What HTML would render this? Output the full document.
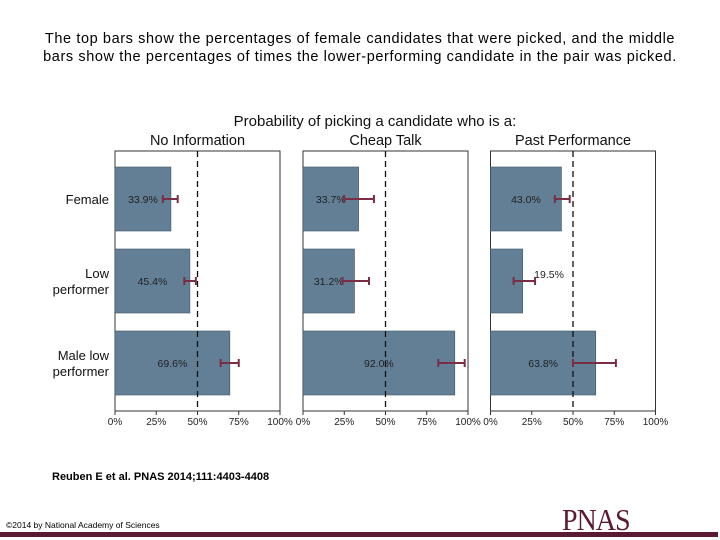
<!DOCTYPE html>
<html><head><meta charset="utf-8"><style>
body{margin:0;background:#fff;}
#wrap{position:relative;width:720px;height:540px;overflow:hidden;font-family:"Liberation Sans",sans-serif;}
.cap{position:absolute;left:0;width:720px;text-align:center;font-size:14.5px;letter-spacing:0.6px;color:#000;}
</style></head><body>
<div id="wrap">
<div class="cap" style="top:31px">The top bars show the percentages of female candidates that were picked, and the middle</div>
<div class="cap" style="top:49px">bars show the percentages of times the lower-performing candidate in the pair was picked.</div>
<svg id="chart" width="720" height="540" style="position:absolute;left:0;top:0"></svg>
<div style="position:absolute;left:52px;top:471px;font-size:11px;font-weight:bold;color:#000">Reuben E et al. PNAS 2014;111:4403-4408</div>
<div style="position:absolute;left:6px;top:520px;font-size:8.5px;color:#000">©2014 by National Academy of Sciences</div>
<div style="position:absolute;left:562px;top:502px;font-family:'Liberation Serif',serif;font-size:31px;color:#5b1a33;letter-spacing:-1px;transform:scaleX(0.9);transform-origin:left">PNAS</div>
<div style="position:absolute;left:0;top:532px;width:718px;height:5px;background:#5b1a33"></div>
</div>
<script>
const panels=["No Information","Cheap Talk","Past Performance"];
const categories=["Female","Low\nperformer","Male low\nperformer"];
const values=[[33.9,45.4,69.6],[33.7,31.2,92.0],[43.0,19.5,63.8]];
const errLow=[[29,42,64],[25,24,82],[39,14,50]];
const errHigh=[[38,49,75],[43,40,98],[48,27,76]];
const ticks=[0,25,50,75,100];
const NS="http://www.w3.org/2000/svg";
const svg=document.getElementById('chart');
const panelLeft=[115,303,490.5],panelW=165,plotTop=151,plotBottom=411;
const bandTop=[167,249,331],barH=64;
function mk(t,a,p){const e=document.createElementNS(NS,t);for(const k in a)e.setAttribute(k,a[k]);(p||svg).appendChild(e);return e;}
function xs(p,v){return panelLeft[p]+v/100*panelW;}
function bandY(i){return bandTop[i];}
let t=mk('text',{x:375,y:126,'font-size':15,'text-anchor':'middle','font-family':'Liberation Sans, sans-serif',fill:'#111'});
t.textContent="Probability of picking a candidate who is a:";


panels.forEach((name,p)=>{
  const g=mk('g',{});
  
  
  const pt=mk('text',{x:xs(p,50),y:145,'font-size':14.5,'text-anchor':'middle','font-family':'Liberation Sans, sans-serif',fill:'#111'},g);
  pt.textContent=name;
  
  
  const fr=mk('rect',{x:xs(p,0),y:plotTop,width:panelW,height:plotBottom-plotTop,fill:'#fff',stroke:'#333','stroke-width':1},g);
  
  
  values[p].forEach((v,i)=>{
    const r=mk('rect',{x:xs(p,0),y:bandY(i),width:xs(p,v)-xs(p,0),height:barH,fill:'#637f96',stroke:'#3e5566','stroke-width':0.6},g);
    
    
  });
  const ref=mk('line',{x1:xs(p,50),x2:xs(p,50),y1:plotTop,y2:plotBottom,stroke:'#111','stroke-width':1.3,'stroke-dasharray':'6,4'},g);
  
  
  values[p].forEach((v,i)=>{
    const cy=bandY(i)+barH/2;
    const small=v<25;
    const lx=small?v+16:v/2;
    const l=mk('text',{x:xs(p,lx),y:small?cy-3:cy+4,'font-size':10.5,'text-anchor':'middle','font-family':'Liberation Sans, sans-serif',fill:'#222'},g);
    l.textContent=v.toFixed(1)+"%";
    
    
    const e=mk('g',{stroke:'#7a2e45','stroke-width':2},g);
    
    
    mk('line',{x1:xs(p,errLow[p][i]),x2:xs(p,errHigh[p][i]),y1:cy,y2:cy},e);
    mk('line',{x1:xs(p,errLow[p][i]),x2:xs(p,errLow[p][i]),y1:cy-4,y2:cy+4},e);
    mk('line',{x1:xs(p,errHigh[p][i]),x2:xs(p,errHigh[p][i]),y1:cy-4,y2:cy+4},e);
  });
  ticks.forEach(tv=>{
    mk('line',{x1:xs(p,tv),x2:xs(p,tv),y1:plotBottom,y2:plotBottom+4,stroke:'#333'},g);
    const tl=mk('text',{x:xs(p,tv),y:plotBottom+14,'font-size':10,'text-anchor':'middle','font-family':'Liberation Sans, sans-serif',fill:'#222'},g);
    tl.textContent=tv+"%";
    
    
  });
});
categories.forEach((c,i)=>{
  const lines=c.split("\n");const cy=bandY(i)+barH/2;
  lines.forEach((s,k)=>{
    const ct=mk('text',{x:109,y:cy+5+(k-(lines.length-1)/2)*16,'font-size':13,'text-anchor':'end','font-family':'Liberation Sans, sans-serif',fill:'#111'});
    ct.textContent=s;
    
    
  });
});
</script>
</body></html>
